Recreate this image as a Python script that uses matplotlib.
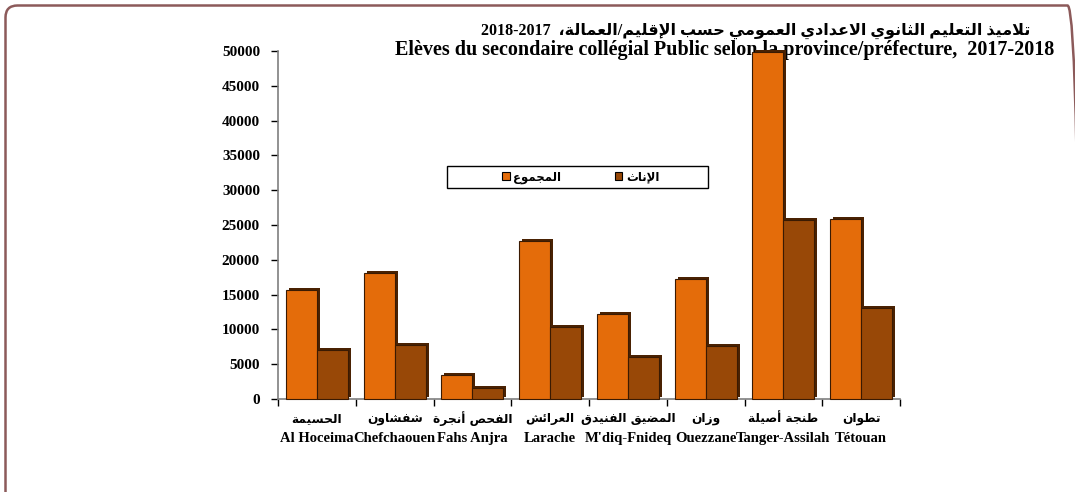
import numpy as np
import matplotlib
matplotlib.use("Agg")
import matplotlib.pyplot as plt  # noqa: E402
from matplotlib.patches import FancyBboxPatch, Patch, Rectangle  # noqa: E402
from matplotlib.transforms import offset_copy  # noqa: E402

# Data
provinces_fr = ["Al Hoceima", "Chefchaouen", "Fahs Anjra", "Larache",
                "M'diq-Fnideq", "Ouezzane", "Tanger-Assilah", "Tétouan"]
provinces_ar = ["الحسيمة", "شفشاون", "الفحص أنجرة", "العرائش",
                "المضيق الفنيدق", "وزان", "طنجة أصيلة", "تطوان"]
total = [15600, 18100, 3400, 22700, 12200, 17200, 49800, 25900]
female = [7000, 7800, 1600, 10400, 6000, 7600, 25700, 13100]
yticks = list(range(0, 50001, 5000))
series_ar = ["المجموع", "الإناث"]
title_ar = "تلاميذ التعليم الثانوي الاعدادي العمومي حسب الإقليم/العمالة،"
title_year = "2018-2017"
title_fr = "Elèves du secondaire collégial Public selon la province/préfecture,  2017-2018"

ORANGE = "#E46C0A"
BROWN = "#984807"
SHADOW = "#4A2203"

# matplotlib has no Arabic shaping: map letters to presentation forms
# and reverse for right-to-left display.
_AR = {
    'ء': (0xFE80, 1), 'آ': (0xFE81, 2), 'أ': (0xFE83, 2), 'ؤ': (0xFE85, 2),
    'إ': (0xFE87, 2), 'ئ': (0xFE89, 4), 'ا': (0xFE8D, 2), 'ب': (0xFE8F, 4),
    'ة': (0xFE93, 2), 'ت': (0xFE95, 4), 'ث': (0xFE99, 4), 'ج': (0xFE9D, 4),
    'ح': (0xFEA1, 4), 'خ': (0xFEA5, 4), 'د': (0xFEA9, 2), 'ذ': (0xFEAB, 2),
    'ر': (0xFEAD, 2), 'ز': (0xFEAF, 2), 'س': (0xFEB1, 4), 'ش': (0xFEB5, 4),
    'ص': (0xFEB9, 4), 'ض': (0xFEBD, 4), 'ط': (0xFEC1, 4), 'ظ': (0xFEC5, 4),
    'ع': (0xFEC9, 4), 'غ': (0xFECD, 4), 'ف': (0xFED1, 4), 'ق': (0xFED5, 4),
    'ك': (0xFED9, 4), 'ل': (0xFEDD, 4), 'م': (0xFEE1, 4), 'ن': (0xFEE5, 4),
    'ه': (0xFEE9, 4), 'و': (0xFEED, 2), 'ى': (0xFEEF, 2), 'ي': (0xFEF1, 4),
}
_LAM_ALEF = {'آ': 0xFEF5, 'أ': 0xFEF7, 'إ': 0xFEF9, 'ا': 0xFEFB}


def rtl(text):
    units = []
    i = 0
    while i < len(text):
        c = text[i]
        if c == 'ل' and i + 1 < len(text) and text[i + 1] in _LAM_ALEF:
            units.append(("LA", text[i + 1]))
            i += 2
        else:
            units.append(("C", c))
            i += 1
    out = []
    for k, (kind, c) in enumerate(units):
        prev = units[k - 1] if k > 0 else None
        nxt = units[k + 1] if k + 1 < len(units) else None
        joins_prev = (prev is not None and prev[0] == "C"
                      and prev[1] in _AR and _AR[prev[1]][1] == 4)
        if kind == "LA":
            out.append(chr(_LAM_ALEF[c] + (1 if joins_prev else 0)))
            continue
        if c not in _AR:
            out.append(c)
            continue
        base, n = _AR[c]
        joins_next = (n == 4 and nxt is not None
                      and (nxt[0] == "LA" or (nxt[1] in _AR and nxt[1] != 'ء')))
        if n == 1:
            form = 0
        elif joins_prev and joins_next:
            form = 3
        elif joins_prev:
            form = 1
        elif joins_next:
            form = 2
        else:
            form = 0
        out.append(chr(base + form))
    return "".join(out)[::-1]


SERIF = ["Liberation Serif", "DejaVu Serif"]
ARABIC = ["DejaVu Sans"]

fig = plt.figure(figsize=(10.75, 4.92), dpi=100)
ax = fig.add_axes([278 / 1075, 93 / 492, 622 / 1075, 348 / 492])
ax.set_zorder(1)
ax.patch.set_alpha(0)

x = np.arange(len(total))
w = 0.4
shift = offset_copy(ax.transData, fig=fig, x=3, y=2, units="dots")
for vals, pos, col in ((total, x - w / 2, ORANGE), (female, x + w / 2, BROWN)):
    ax.bar(pos, vals, w, color=SHADOW, transform=shift, clip_on=False, zorder=2)
    ax.bar(pos, vals, w, color=col, edgecolor="#3A1A02", linewidth=0.8,
           clip_on=False, zorder=3)

ax.set_xlim(-0.5, len(total) - 0.5)
ax.set_ylim(0, 50000)
ax.set_yticks(yticks)
ax.set_yticklabels([str(v) for v in yticks], fontfamily=SERIF,
                   fontweight="bold", fontsize=11)
ax.set_xticks(np.arange(-0.5, len(total), 1))
ax.set_xticklabels([])
ax.tick_params(axis="both", direction="out", length=5, width=1, color="black")
ax.tick_params(axis="y", pad=8)
for side in ("top", "right"):
    ax.spines[side].set_visible(False)
for side in ("left", "bottom"):
    ax.spines[side].set_color("#7F7F7F")
    ax.spines[side].set_linewidth(1.2)

for i in x:
    ax.annotate(rtl(provinces_ar[i]), xy=(i, 0), xycoords=("data", "axes fraction"),
                xytext=(0, -14), textcoords="offset points", ha="center",
                va="center", fontfamily=ARABIC, fontweight="bold", fontsize=8.8)
    ax.annotate(provinces_fr[i], xy=(i, 0), xycoords=("data", "axes fraction"),
                xytext=(0, -28.5), textcoords="offset points", ha="center",
                va="center", fontfamily=SERIF, fontweight="bold", fontsize=10.5)

# legend: entries without frame, wide Excel-style box drawn around them
handles = [Patch(facecolor=ORANGE, edgecolor="black", linewidth=0.8),
           Patch(facecolor=BROWN, edgecolor="black", linewidth=0.8)]
leg = ax.legend(handles, [rtl(s) for s in series_ar], ncol=2,
                loc="center", bbox_to_anchor=(0.487, 0.638), frameon=False,
                prop={"family": ARABIC, "weight": "bold", "size": 8.5},
                handlelength=0.6, handleheight=0.6, handletextpad=0.3,
                columnspacing=4.6)
leg.set_zorder(5)
ax.add_patch(Rectangle((0.2717, 0.606), 0.4196, 0.0635, transform=ax.transAxes,
                       facecolor="white", edgecolor="black", linewidth=1.0,
                       zorder=4, clip_on=False))

# two-line title, drawn beneath the axes so the tallest bar covers it
fig.text(756 / 1075, 1 - 31 / 492, title_year + "  " + rtl(title_ar),
         ha="center", va="center", fontfamily=["Liberation Serif", "DejaVu Sans"],
         fontweight="bold", fontsize=11.5, zorder=0.5)
fig.text(725 / 1075, 1 - 50 / 492, title_fr, ha="center", va="center",
         fontfamily=SERIF, fontweight="bold", fontsize=14.5, zorder=0.5)

# rounded chart-area border, in inches so the corners stay circular
frame = FancyBboxPatch((0.055, -1.0), 10.74, 4.865 + 1.0,
                       boxstyle="round,pad=0,rounding_size=0.12",
                       transform=fig.dpi_scale_trans, facecolor="none",
                       edgecolor="#8C5A5A", linewidth=1.8, zorder=-1)
fig.patches.append(frame)

fig.savefig("out.png", dpi=100, facecolor="white")
